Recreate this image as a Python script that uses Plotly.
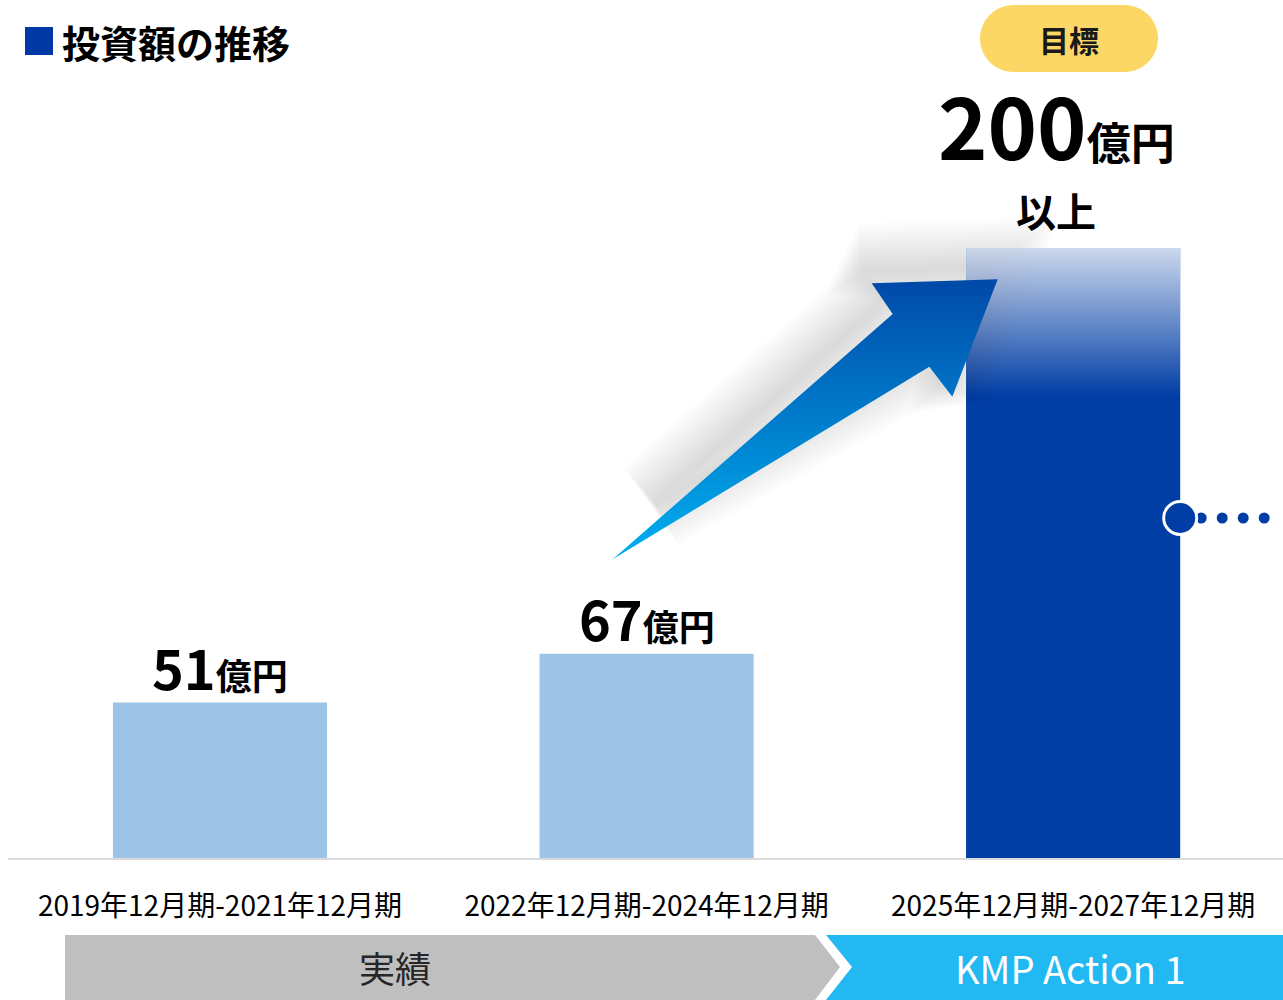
import plotly.graph_objects as go

# ---- data ----
categories = ["2019年12月期-2021年12月期", "2022年12月期-2024年12月期", "2025年12月期-2027年12月期"]
values = [51, 67, 200]
value_labels = ["51", "67", "200"]
unit = "億円"
phases = ["実績", "KMP Action 1"]
title = "投資額の推移"
target_label = "目標"
target_suffix = "以上"

# ---- layout geometry ----
W, H = 1283, 1000
ML, MR, MT, MB = 8, 0, 40, 142
PW = W - ML - MR
PH = H - MT - MB
XR = [-0.497, 2.492]
YR = [0, 268.2]
BAR_W = 0.502

FONT = "Noto Sans CJK JP"
LIGHT = "#9DC3E6"
DARK = "#003DA5"


def px(p):  # pixel x -> paper
    return (p - ML) / PW


def py(p):  # pixel y -> paper
    return (H - MB - p) / PH


def dx(p):  # pixel x -> data
    return XR[0] + (p - ML) / PW * (XR[1] - XR[0])


def dy(p):  # pixel y -> data
    return YR[0] + (H - MB - p) / PH * (YR[1] - YR[0])


xs = list(range(len(categories)))
colors = [LIGHT, LIGHT, DARK]

fig = go.Figure()

# arrow outline (decorative)
arrow_px = [(612.7, 559.3), (892.7, 314.0), (871.7, 283.3), (997.7, 279.3),
            (952.3, 396.7), (929.3, 366.7), (612.7, 559.3)]

# soft shadow: layered strokes of a slightly shortened, shifted outline
sh_tail = (665, 515)
sh_core = [(892.7, 314.0), (871.7, 283.3), (997.7, 279.3), (952.3, 396.7), (929.3, 366.7), sh_tail]
mid = ((sh_tail[0] + 892.7) / 2, (sh_tail[1] + 314.0) / 2)
sh = [mid] + sh_core + [mid]
sh = [(x - 10, y - 12) for x, y in sh]
for w in range(96, 0, -8):
    fig.add_trace(go.Scatter(
        x=[dx(p[0]) for p in sh], y=[dy(p[1]) for p in sh], mode="lines",
        line=dict(width=w, color="rgba(0,0,0,0.01)"),
        hoverinfo="skip", showlegend=False))

# bars
fig.add_trace(go.Bar(
    x=xs, y=values, width=BAR_W, marker=dict(color=colors, line=dict(width=0)),
    hoverinfo="skip", showlegend=False))

# gradient at top of target bar
top = values[2]
fade = dy(246) - dy(395)
gx0, gx1 = xs[2] - BAR_W / 2, xs[2] + BAR_W / 2
fig.add_trace(go.Scatter(
    x=[gx0, gx1, gx1, gx0, gx0], y=[top - fade, top - fade, top, top, top - fade],
    mode="lines", fill="toself", line=dict(width=0, color="rgba(0,0,0,0)"),
    fillgradient=dict(type="vertical",
                      colorscale=[[0, "rgba(255,255,255,0)"], [1, "rgba(255,255,255,0.8)"]]),
    hoverinfo="skip", showlegend=False))

# arrow
fig.add_trace(go.Scatter(
    x=[dx(p[0]) for p in arrow_px], y=[dy(p[1]) for p in arrow_px],
    mode="lines", fill="toself", line=dict(width=0, color="rgba(0,0,0,0)"),
    fillgradient=dict(type="vertical", colorscale=[[0, "#00B0F0"], [1, "#0049A8"]]),
    hoverinfo="skip", showlegend=False))

# connector dots
cy = dy(518)
edge = xs[2] + BAR_W / 2
step = dx(1221) - dx(1200)
fig.add_trace(go.Scatter(
    x=[edge + step * k for k in range(1, 6)], y=[cy] * 5, mode="markers",
    marker=dict(size=11, color=DARK), hoverinfo="skip", showlegend=False, cliponaxis=False))
fig.add_trace(go.Scatter(
    x=[edge], y=[cy], mode="markers",
    marker=dict(size=33, color=DARK, line=dict(color="white", width=3)),
    hoverinfo="skip", showlegend=False, cliponaxis=False))

annotations = []
# value labels
for i in range(2):
    annotations.append(dict(
        x=xs[i], y=values[i], xref="x", yref="y", xanchor="center", yanchor="middle", yshift=36,
        text=f"<b>{value_labels[i]}<span style='font-size:36px'>{unit}</span></b>",
        showarrow=False, font=dict(family=FONT, size=54, color="black")))
annotations.append(dict(
    x=xs[2], y=values[2], xref="x", yref="y", xanchor="center", yanchor="middle",
    yshift=125, xshift=-17,
    text=f"<b>{value_labels[2]}<span style='font-size:44px'>{unit}</span></b>",
    showarrow=False, font=dict(family=FONT, size=84, color="black")))
annotations.append(dict(
    x=xs[2], y=values[2], xref="x", yref="y", xanchor="center", yanchor="middle",
    yshift=38, xshift=-17,
    text=f"<b>{target_suffix}</b>", showarrow=False,
    font=dict(family=FONT, size=40, color="black")))
annotations.append(dict(
    x=px(1069), y=py(38.5), xref="paper", yref="paper", xanchor="center", yanchor="middle",
    text=f"<b>{target_label}</b>", showarrow=False,
    font=dict(family=FONT, size=30, color="#1a1a1a")))
# title
annotations.append(dict(
    x=px(60), y=py(42), xref="paper", yref="paper", xanchor="left", yanchor="middle",
    text=f"<b>{title}</b>", showarrow=False, font=dict(family=FONT, size=38, color="black")))
# phase band texts
annotations.append(dict(
    x=px(395), y=py(967), xref="paper", yref="paper", xanchor="center", yanchor="middle",
    text=phases[0], showarrow=False, font=dict(family=FONT, size=36, color="#262626")))
annotations.append(dict(
    x=px(1070), y=py(967), xref="paper", yref="paper", xanchor="center", yanchor="middle",
    text=phases[1], showarrow=False, font=dict(family=FONT, size=38, color="white")))


def P(x, y):
    return f"{px(x)},{py(y)}"


def pill(x0, y0, x1, y1):
    r = (y1 - y0) / 2
    k = 0.5523 * r
    return (f"M{P(x0 + r, y0)} L{P(x1 - r, y0)} "
            f"C{P(x1 - r + k, y0)} {P(x1, y0 + r - k)} {P(x1, y0 + r)} "
            f"C{P(x1, y0 + r + k)} {P(x1 - r + k, y1)} {P(x1 - r, y1)} "
            f"L{P(x0 + r, y1)} "
            f"C{P(x0 + r - k, y1)} {P(x0, y0 + r + k)} {P(x0, y0 + r)} "
            f"C{P(x0, y0 + r - k)} {P(x0 + r - k, y0)} {P(x0 + r, y0)} Z")


shapes = [
    dict(type="rect", xref="paper", yref="paper", x0=px(25), x1=px(53), y0=py(55), y1=py(27),
         fillcolor="#0039A6", line=dict(width=0), layer="above"),
    dict(type="path", xref="paper", yref="paper", path=pill(980, 5, 1158, 72),
         fillcolor="#FDD766", line=dict(width=0), layer="below"),
    dict(type="path", xref="paper", yref="paper",
         path=f"M{P(65, 935)} L{P(815, 935)} L{P(840, 967)} L{P(815, 1000)} L{P(65, 1000)} Z",
         fillcolor="#BFBFBF", line=dict(width=0), layer="below"),
    dict(type="path", xref="paper", yref="paper",
         path=f"M{P(826, 935)} L{P(1283, 935)} L{P(1283, 1000)} L{P(826, 1000)} L{P(852, 967)} Z",
         fillcolor="#22B8F2", line=dict(width=0), layer="below"),
]

fig.update_layout(
    width=W, height=H,
    margin=dict(l=ML, r=MR, t=MT, b=MB, pad=0),
    paper_bgcolor="white", plot_bgcolor="white",
    showlegend=False,
    annotations=annotations, shapes=shapes,
    xaxis=dict(range=XR, tickvals=xs, ticktext=categories, showgrid=False, zeroline=False,
               showline=True, linecolor="#D9D9D9", linewidth=2,
               ticks="outside", ticklen=22, tickcolor="rgba(0,0,0,0)",
               tickfont=dict(family=FONT, size=28, color="black"), fixedrange=True),
    yaxis=dict(range=YR, visible=False, showgrid=False, zeroline=False, fixedrange=True),
    font=dict(family=FONT),
)

fig.write_html("out.html", config={"displayModeBar": False},
               post_script="document.body.style.margin='0px';document.body.style.overflow='hidden';")
